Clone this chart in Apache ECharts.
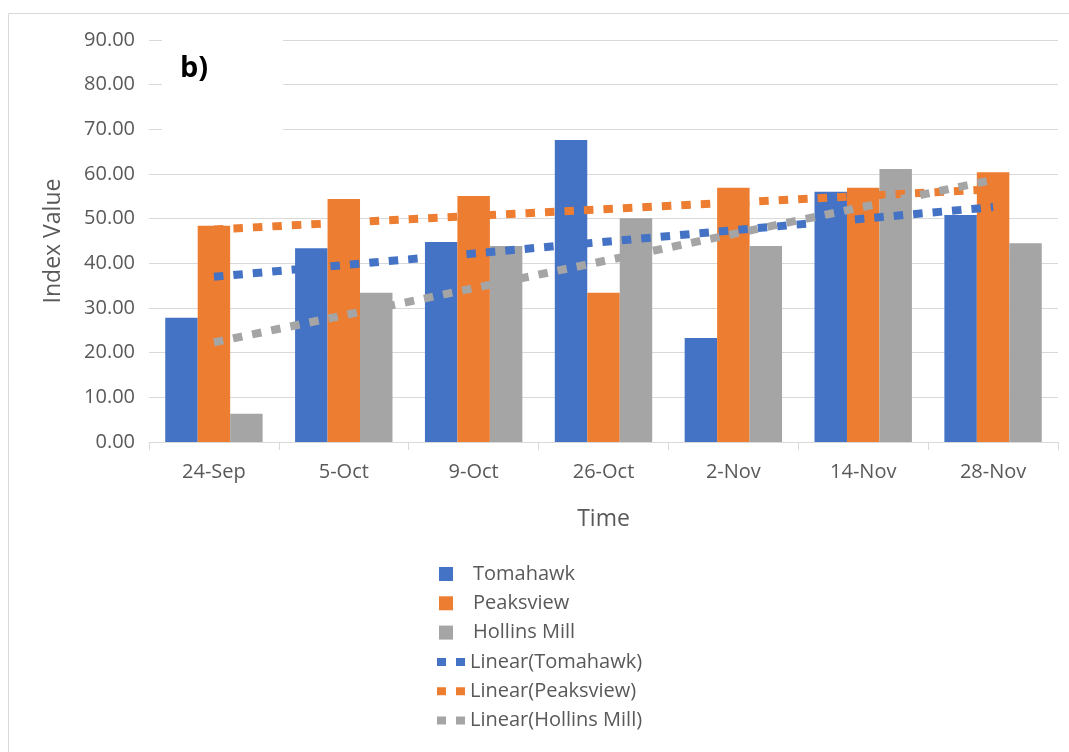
<!DOCTYPE html>
<html>
<head>
<meta charset="utf-8">
<script src="https://cdn.jsdelivr.net/npm/echarts@6/dist/echarts.min.js"></script>
<style>
html,body{margin:0;padding:0;background:#fff;}
#chart{width:1069px;height:752px;}
</style>
</head>
<body>
<div id="chart"></div>
<script>
const categories = ['24-Sep', '5-Oct', '9-Oct', '26-Oct', '2-Nov', '14-Nov', '28-Nov'];
const tomahawk = [27.8, 43.4, 44.8, 67.6, 23.3, 56.0, 50.8];
const peaksview = [48.4, 54.4, 55.1, 33.4, 56.9, 56.9, 60.4];
const hollinsMill = [6.3, 33.4, 43.9, 50.1, 43.9, 61.1, 44.5];
// Trend line endpoints (first and last category)
const trendTomahawk = [37.0, null, null, null, null, null, 52.6];
const trendPeaksview = [47.6, null, null, null, null, null, 56.6];
const trendHollins = [22.3, null, null, null, null, null, 58.7];

const FONT = 'Open Sans';
const TXT = '#595959';
const GRID = '#d9d9d9';
const C_BLUE = '#4472C4', C_ORANGE = '#ED7D31', C_GRAY = '#A5A5A5';
const dotIcon = 'path://M0,0h9v8h-9zM19,0h9v8h-9z';

const chart = echarts.init(document.getElementById('chart'));

function trend(name, data, color) {
  return {
    name: name, type: 'line', data: data, connectNulls: true,
    symbol: 'none', z: 5,
    itemStyle: {color: color},
    lineStyle: {color: color, width: 8, type: [9.5, 10], cap: 'butt'}
  };
}

chart.setOption({
  animation: false,
  backgroundColor: '#fff',
  textStyle: {fontFamily: FONT},
  graphic: [
    {type: 'rect', shape: {x: 8.5, y: 13.5, width: 1100, height: 800},
     style: {fill: 'none', stroke: GRID, lineWidth: 1}, z: -10},
    {type: 'rect', shape: {x: 162, y: 28, width: 121, height: 112},
     style: {fill: '#fff'}, z: 1},
    {type: 'text', left: 180, top: 54, z: 2,
     style: {text: 'b)', fontFamily: FONT, fontWeight: 'bold', fontSize: 29, fill: '#000'}}
  ],
  grid: {left: 149, right: 11, top: 40, bottom: 310, containLabel: false},
  legend: [
    {
      data: ['Tomahawk', 'Peaksview', 'Hollins Mill'],
      orient: 'vertical', left: 434, top: 558,
      icon: 'rect', itemWidth: 14, itemHeight: 14, itemGap: 7.3,
      textStyle: {fontFamily: FONT, fontSize: 20, color: TXT, lineHeight: 22, padding: [0, 0, 0, 15]}
    },
    {
      data: [
        {name: 'Linear(Tomahawk)', icon: dotIcon},
        {name: 'Linear(Peaksview)', icon: dotIcon},
        {name: 'Linear(Hollins Mill)', icon: dotIcon}
      ],
      orient: 'vertical', left: 432, top: 646,
      itemWidth: 28, itemHeight: 8, itemGap: 7.3,
      textStyle: {fontFamily: FONT, fontSize: 20, color: TXT, lineHeight: 22}
    }
  ],
  xAxis: {
    type: 'category', data: categories, boundaryGap: true,
    name: 'Time', nameLocation: 'middle', nameGap: 66,
    nameTextStyle: {fontFamily: FONT, fontSize: 23, color: TXT},
    axisLine: {lineStyle: {color: GRID, width: 1}},
    axisTick: {show: true, length: 8, lineStyle: {color: GRID}},
    axisLabel: {fontFamily: FONT, fontSize: 20, color: TXT, margin: 20},
    splitLine: {show: false}
  },
  yAxis: {
    type: 'value', min: 0, max: 90, interval: 10,
    name: 'Index Value', nameLocation: 'middle', nameGap: 84, nameRotate: 90,
    nameTextStyle: {fontFamily: FONT, fontSize: 23, color: TXT},
    axisLine: {show: false}, axisTick: {show: false},
    axisLabel: {fontFamily: FONT, fontSize: 20, color: TXT, margin: 14,
      formatter: v => v.toFixed(2)},
    splitLine: {lineStyle: {color: GRID, width: 1}}
  },
  series: [
    {name: 'Tomahawk', type: 'bar', data: tomahawk, barGap: '0%', barCategoryGap: '25%',
     itemStyle: {color: C_BLUE}},
    {name: 'Peaksview', type: 'bar', data: peaksview, barGap: '0%', barCategoryGap: '25%',
     itemStyle: {color: C_ORANGE}},
    {name: 'Hollins Mill', type: 'bar', data: hollinsMill, barGap: '0%', barCategoryGap: '25%',
     itemStyle: {color: C_GRAY}},
    trend('Linear(Tomahawk)', trendTomahawk, C_BLUE),
    trend('Linear(Peaksview)', trendPeaksview, C_ORANGE),
    trend('Linear(Hollins Mill)', trendHollins, C_GRAY)
  ]
});
</script>
</body>
</html>
